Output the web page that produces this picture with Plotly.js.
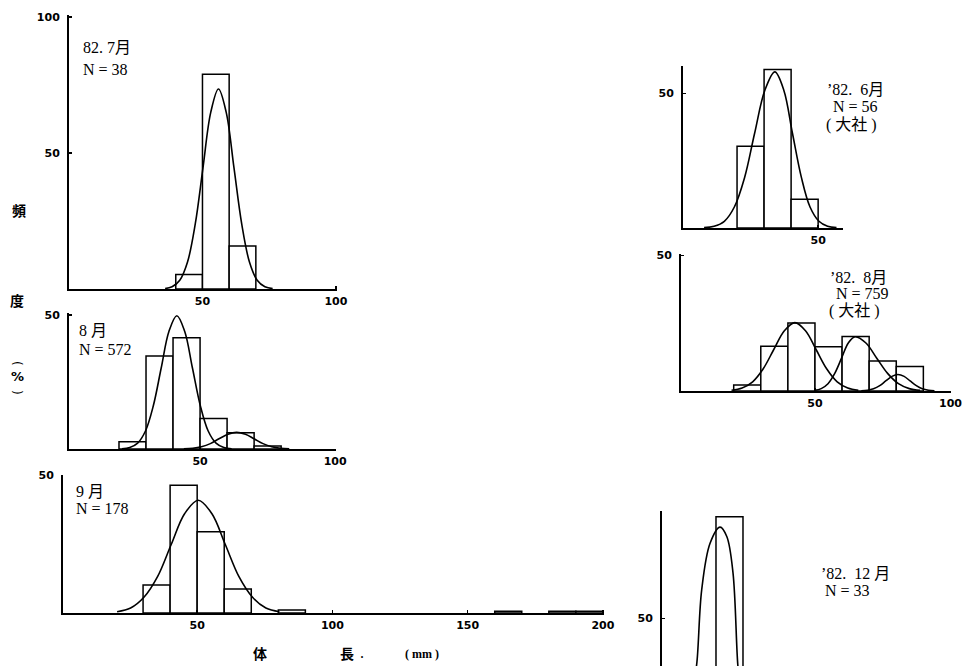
<!DOCTYPE html>
<html><head><meta charset="utf-8">
<script src="https://cdn.plot.ly/plotly-3.0.1.min.js"></script>
<style>html,body{margin:0;padding:0;background:#fff}#chart{width:963px;height:666px}</style>
</head><body><div id="chart"></div>
<script>
// ---------- data ----------
// size classes: bin mid-points (mm), bin width 10 mm; values = frequency (%)
const jul82Mid = [45, 55, 65];
const jul82Pct = [5.3, 78.9, 15.8];
const jul82CurveX = [36, 38.6, 41.5, 44.4, 47.3, 50.2, 53.1, 56, 58.9, 61.8, 64.7, 67.6, 70.5, 73.4, 76.3];
const jul82CurveY = [0.2, 0.8, 3.2, 9.9, 23.9, 44.6, 64.9, 73.5, 64.9, 44.6, 23.9, 9.9, 3.2, 0.8, 0.2];

const aug82Mid = [25, 35, 45, 55, 65, 75];
const aug82Pct = [2.7, 34.7, 41.5, 11.4, 6.1, 1.1];
const aug82CurveAX = [21.1, 24.0, 26.9, 29.8, 32.7, 35.6, 38.5, 41.4, 44.3, 47.2, 50.1, 53.0, 55.9, 58.8, 61.7];
const aug82CurveAY = [0.1, 0.55, 2.2, 6.7, 16.1, 30.1, 43.9, 49.7, 43.9, 30.1, 16.1, 6.7, 2.2, 0.55, 0.1];
const aug82CurveBX = [44, 47.3, 50.5, 53.8, 57, 60.3, 63.5, 66.8, 70, 73.3, 76.5, 79.8, 83];
const aug82CurveBY = [0.07, 0.27, 0.84, 2.0, 3.8, 5.5, 6.2, 5.5, 3.8, 2.0, 0.84, 0.27, 0.07];

const sep82Mid = [35, 45, 55, 65, 85, 165, 185, 195];
const sep82Pct = [10.2, 46.5, 29.6, 8.7, 1.1, 0.6, 0.6, 0.6];
const sep82CurveX = [20.4, 25.4, 30.4, 35.4, 40.4, 45.4, 50.4, 55.4, 60.4, 65.4, 70.4, 75.4, 80.4];
const sep82CurveY = [0.46, 1.8, 5.8, 13.3, 24.9, 36.2, 41, 36.2, 24.9, 13.3, 5.8, 1.8, 0.46];

const jun82TaishaMid = [25, 35, 45];
const jun82TaishaPct = [30.4, 58.9, 10.7];
const jun82CurveX = [7.8, 11.5, 15.3, 19, 22.8, 26.5, 30.3, 34, 37.3, 40.5, 43.8, 47, 50.3, 53.5, 56.8];
const jun82CurveY = [0.13, 0.64, 2.5, 7.8, 18.8, 35.2, 51.2, 58, 51.2, 35.2, 18.8, 7.8, 2.5, 0.64, 0.13];

const aug82TaishaMid = [25, 35, 45, 55, 65, 75, 85];
const aug82TaishaPct = [2.2, 16.5, 25.1, 16.3, 20.1, 11.1, 9.0];
const aug82TCurveAX = [19.2, 23.1, 27, 30.9, 34.8, 38.7, 42.6, 46.5, 50.4, 54.3, 58.2, 62.1, 66];
const aug82TCurveAY = [0.28, 1.1, 3.4, 8.2, 15.3, 22.2, 25.2, 22.2, 15.3, 8.2, 3.4, 1.1, 0.28];
const aug82TCurveBX = [49.8, 52.3, 54.8, 57.3, 59.8, 62.3, 64.8, 68.8, 72.8, 76.8, 80.8, 84.8, 88.8];
const aug82TCurveBY = [0.22, 0.88, 2.7, 6.5, 12.1, 17.7, 20, 17.7, 12.1, 6.5, 2.7, 0.88, 0.22];
const aug82TCurveCX = [67.1, 69.4, 71.6, 73.9, 76.1, 78.4, 80.6, 82.9, 85.1, 87.4, 89.6, 91.9, 94.1];
const aug82TCurveCY = [0.07, 0.27, 0.83, 1.98, 3.7, 5.4, 6.1, 5.4, 3.7, 1.98, 0.83, 0.27, 0.07];

const dec82Mid = [25];
const dec82Pct = [87.9];
const dec82CurveX = [11.5, 12.8, 14.7, 17.8, 21.5, 24, 26.3, 28.1, 29];
const dec82CurveY = [26, 32.6, 60.7, 78, 84, 80.5, 67, 32.6, 25];

const xTickP1 = [50, 100], yTickP1 = [50, 100];
const xTickP2 = [50, 100], yTickP2 = [50];
const xTickP3 = [50, 100, 150, 200], yTickP3 = [50];
const xTickP4 = [50], yTickP4 = [50];
const xTickP5 = [50, 100], yTickP5 = [50];
const yTickP6 = [50];

const labelsP1 = ['82. 7月', 'N = 38'];
const labelsP2 = ['8 月', 'N = 572'];
const labelsP3 = ['9 月', 'N = 178'];
const labelsP4 = ['’82.  6月', 'N = 56', '( 大社 )'];
const labelsP5 = ['’82.  8月', 'N = 759', '( 大社 )'];
const labelsP6 = ['’82.  12 月', 'N = 33'];

// ---------- layout helpers ----------
const W = 963, H = 666;
const fx = (a, b) => [a / W, b / W];
const fy = (top, bottom) => [1 - bottom / H, 1 - top / H];

const tickFont = {family: 'DejaVu Sans, Liberation Sans, sans-serif', size: 11, color: '#000', weight: 'bold'};
function xa(dom, range, ticks, yId, show) {
  return {domain: dom, range: range, anchor: yId, showgrid: false, zeroline: false,
    showline: show !== false, linecolor: '#000', linewidth: 2, visible: show !== false,
    tickmode: 'array', tickvals: ticks || [], ticks: 'inside', ticklen: 3, tickwidth: 1.5,
    tickcolor: '#000', tickfont: tickFont, ticklabelstandoff: 1, fixedrange: true};
}
function ya(dom, range, ticks, xId) {
  return {domain: dom, range: range, anchor: xId, showgrid: false, zeroline: false,
    showline: true, linecolor: '#000', linewidth: 2,
    tickmode: 'array', tickvals: ticks, ticks: 'inside', ticklen: 3, tickwidth: 1.5,
    tickcolor: '#000', tickfont: tickFont, ticklabelstandoff: 5, fixedrange: true};
}

const barStyle = {color: 'rgba(255,255,255,1)', line: {color: '#000', width: 1.5}};
const lineStyle = {color: '#000', width: 1.6, shape: 'spline', smoothing: 1};
function bars(x, y, n) {
  return {type: 'bar', x: x, y: y, width: x.map(() => 10), marker: barStyle,
    xaxis: 'x' + (n > 1 ? n : ''), yaxis: 'y' + (n > 1 ? n : ''), hoverinfo: 'skip', showlegend: false};
}
function curve(x, y, n) {
  return {type: 'scatter', mode: 'lines', x: x, y: y, line: lineStyle,
    xaxis: 'x' + (n > 1 ? n : ''), yaxis: 'y' + (n > 1 ? n : ''), hoverinfo: 'skip', showlegend: false};
}

const data = [
  bars(jul82Mid, jul82Pct, 1), curve(jul82CurveX, jul82CurveY, 1),
  bars(aug82Mid, aug82Pct, 2), curve(aug82CurveAX, aug82CurveAY, 2), curve(aug82CurveBX, aug82CurveBY, 2),
  bars(sep82Mid, sep82Pct, 3), curve(sep82CurveX, sep82CurveY, 3),
  bars(jun82TaishaMid, jun82TaishaPct, 4), curve(jun82CurveX, jun82CurveY, 4),
  bars(aug82TaishaMid, aug82TaishaPct, 5), curve(aug82TCurveAX, aug82TCurveAY, 5),
  curve(aug82TCurveBX, aug82TCurveBY, 5), curve(aug82TCurveCX, aug82TCurveCY, 5),
  bars(dec82Mid, dec82Pct, 6), curve(dec82CurveX, dec82CurveY, 6)
];

const serif = {family: 'Liberation Serif, Noto Sans CJK JP, serif', size: 16, color: '#000'};
const cjkBold = {family: 'Noto Sans CJK JP, sans-serif', size: 14, color: '#000', weight: 'bold'};
const ann = [];
function txt(s, x, y, font, anchor, angle) {
  ann.push({text: s, x: x / W, y: 1 - y / H, xref: 'paper', yref: 'paper', showarrow: false,
    xanchor: anchor || 'left', yanchor: 'middle', font: font, textangle: angle || 0});
}
function block(lines, xs, ys) { lines.forEach((s, i) => txt(s, xs[i], ys[i], serif)); }
block(labelsP1, [81, 81], [47, 69]);
block(labelsP2, [77, 77], [330, 349]);
block(labelsP3, [74, 74], [491, 508]);
block(labelsP4, [825, 831, 824], [90, 107, 125]);
block(labelsP5, [828, 834, 827], [277, 294, 311]);
block(labelsP6, [819, 823], [573, 590]);
// y-axis title (vertical) and x-axis title
const parenFont = {family: 'DejaVu Sans, sans-serif', size: 12, color: '#000'};
txt('頻', 19, 210, cjkBold, 'center');
txt('度', 17, 300, cjkBold, 'center');
txt('(', 17, 363, parenFont, 'center', 90);
txt('%', 17, 377, {family: 'DejaVu Sans, sans-serif', size: 13, color: '#000', weight: 'bold'}, 'center');
txt(')', 17, 392, parenFont, 'center', 90);
txt('体', 260, 653, cjkBold, 'center');
txt('長', 347, 653, cjkBold, 'center');
txt('.', 362, 652, serif, 'center');
txt('( mm )', 422, 654, {family: 'Liberation Serif, serif', size: 12, color: '#000', weight: 'bold'}, 'center');

const layout = {
  width: W, height: H, margin: {l: 0, r: 0, t: 0, b: 0},
  paper_bgcolor: '#fff', plot_bgcolor: 'rgba(0,0,0,0)',
  bargap: 0, showlegend: false,
  xaxis: xa(fx(69, 337), [0, 100.4], xTickP1, 'y'),
  yaxis: ya(fy(15, 289), [0, 100.7], yTickP1, 'x'),
  xaxis2: xa(fx(69, 336), [1.5, 100.3], xTickP2, 'y2'),
  yaxis2: ya(fy(313, 449), [0, 50.7], yTickP2, 'x2'),
  xaxis3: xa(fx(63, 604), [0.4, 200.4], xTickP3, 'y3'),
  yaxis3: ya(fy(475, 613), [0, 50.2], yTickP3, 'x3'),
  xaxis4: xa(fx(683, 843), [0, 59.2], xTickP4, 'y4'),
  yaxis4: ya(fy(66, 228), [0, 60.2], yTickP4, 'x4'),
  xaxis5: xa(fx(681, 951), [0.55, 100.2], xTickP5, 'y5'),
  yaxis5: ya(fy(254, 391), [0, 50.5], yTickP5, 'x5'),
  xaxis6: xa(fx(662, 760), [0, 36.3], [], 'y6', false),
  yaxis6: ya(fy(511, 666), [32.4, 90], yTickP6, 'x6'),
  annotations: ann
};
Plotly.newPlot('chart', data, layout, {displayModeBar: false, staticPlot: true});
</script></body></html>
